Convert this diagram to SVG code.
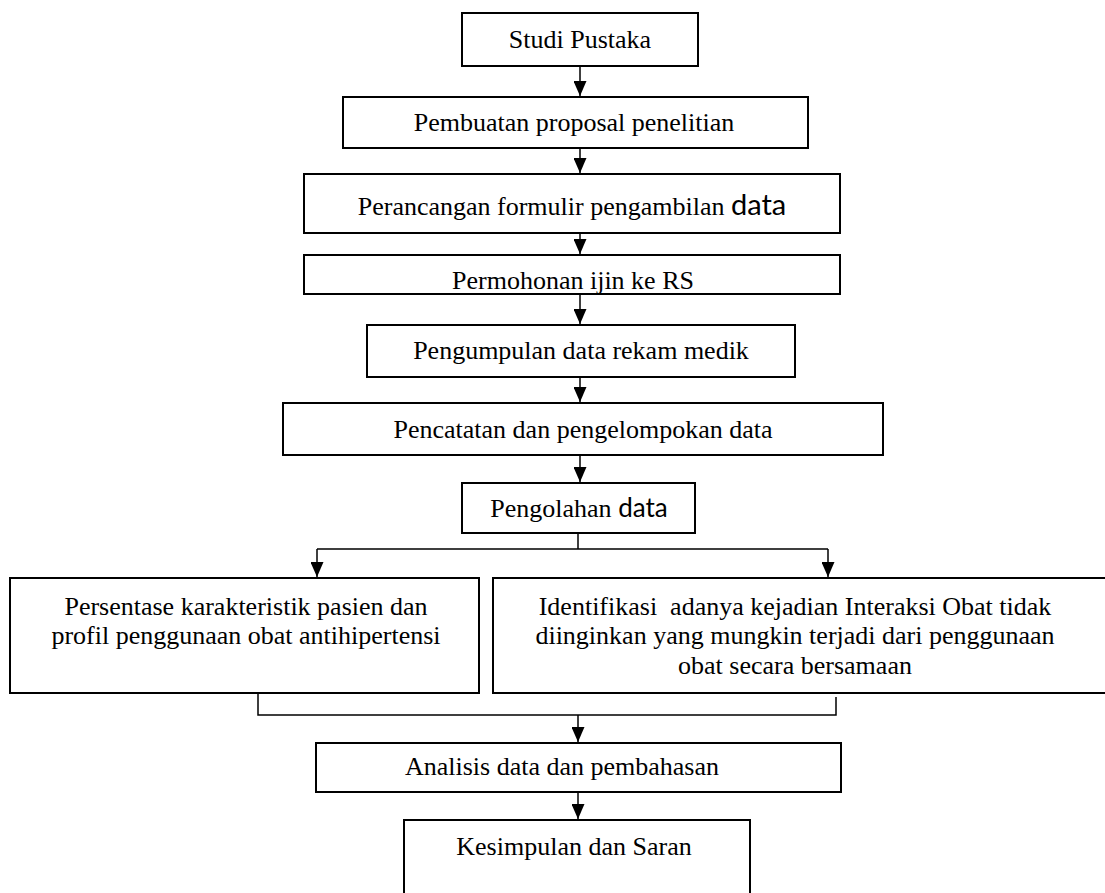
<svg xmlns="http://www.w3.org/2000/svg" width="1105" height="893" viewBox="0 0 1105 893">
<style>
.box{fill:#fff;stroke:#000;stroke-width:2}
.t{font-family:"Liberation Serif","Times New Roman",serif;font-size:26px;fill:#000;text-anchor:middle}
.s{font-family:Lato,"Open Sans",sans-serif}
.ln{fill:none;stroke:#000;stroke-width:1.5}
</style>
<defs>
<marker id="ah" markerWidth="15" markerHeight="13" refX="15" refY="6.5" orient="auto" markerUnits="userSpaceOnUse" viewBox="0 0 15 13">
<path d="M0,0 L15,6.5 L0,13 Z" fill="#000"/>
</marker>
<clipPath id="c4"><rect x="304" y="255" width="536" height="39"/></clipPath>
</defs>
<rect width="1105" height="893" fill="#fff"/>
<g id="connectors">
<path class="ln" d="M580,66 V96" marker-end="url(#ah)"/>
<path class="ln" d="M580,148 V173" marker-end="url(#ah)"/>
<path class="ln" d="M580,233 V254" marker-end="url(#ah)"/>
<path class="ln" d="M580,294 V324" marker-end="url(#ah)"/>
<path class="ln" d="M580,377 V402" marker-end="url(#ah)"/>
<path class="ln" d="M580,455 V482" marker-end="url(#ah)"/>
<path class="ln" d="M578,533 V549 M317,549 H828"/>
<path class="ln" d="M317,549 V577" marker-end="url(#ah)"/>
<path class="ln" d="M828,549 V577" marker-end="url(#ah)"/>
<path class="ln" d="M258,693 V715 H836 V697"/>
<path class="ln" d="M578,715 V742" marker-end="url(#ah)"/>
<path class="ln" d="M578,792 V819" marker-end="url(#ah)"/>
</g>
<g id="n1"><rect class="box" x="462" y="13" width="236" height="53"/><text class="t" x="580" y="48">Studi Pustaka</text></g>
<g id="n2"><rect class="box" x="343" y="97" width="465" height="51"/><text class="t" x="574" y="131">Pembuatan proposal penelitian</text></g>
<g id="n3"><rect class="box" x="304" y="174" width="536" height="59"/><text class="t" x="572" y="215">Perancangan formulir pengambilan <tspan class="s" font-size="29">data</tspan></text></g>
<g id="n4"><rect class="box" x="304" y="255" width="536" height="39"/><text class="t" x="573" y="289" clip-path="url(#c4)">Permohonan ijin ke RS</text></g>
<g id="n5"><rect class="box" x="367" y="325" width="428" height="52"/><text class="t" x="581" y="359">Pengumpulan data rekam medik</text></g>
<g id="n6"><rect class="box" x="283" y="403" width="600" height="52"/><text class="t" x="583" y="438">Pencatatan dan pengelompokan data</text></g>
<g id="n7"><rect class="box" x="462" y="483" width="233" height="50"/><text class="t" x="579" y="517">Pengolahan <tspan class="s">data</tspan></text></g>
<g id="n8"><rect class="box" x="10" y="578" width="469" height="115"/>
<text class="t" x="246" y="615">Persentase karakteristik pasien dan</text>
<text class="t" x="246" y="644">profil penggunaan obat antihipertensi</text></g>
<g id="n9"><rect class="box" x="493" y="578" width="620" height="115"/>
<text class="t" x="795" y="615" xml:space="preserve">Identifikasi  adanya kejadian Interaksi Obat tidak</text>
<text class="t" x="795" y="644">diinginkan yang mungkin terjadi dari penggunaan</text>
<text class="t" x="795" y="674">obat secara bersamaan</text></g>
<g id="n10"><rect class="box" x="316" y="743" width="525" height="49"/><text class="t" x="562" y="775">Analisis data dan pembahasan</text></g>
<g id="n11"><rect class="box" x="404" y="820" width="346" height="90"/><text class="t" x="574" y="855">Kesimpulan dan Saran</text></g>
</svg>
